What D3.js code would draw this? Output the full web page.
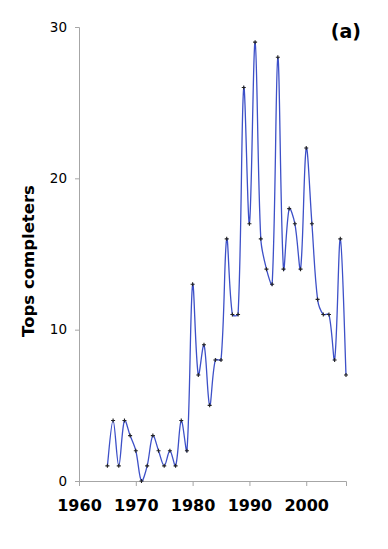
<!DOCTYPE html>
<meta charset="utf-8">
<script src="https://d3js.org/d3.v7.min.js"></script>
<style>
body { margin: 0; background: #fff; }
</style>
<div id="my_dataviz"></div>
<script>
// data
var years = [1965, 1966, 1967, 1968, 1969, 1970, 1971, 1972, 1973, 1974, 1975, 1976, 1977, 1978, 1979,
             1980, 1981, 1982, 1983, 1984, 1985, 1986, 1987, 1988, 1989, 1990, 1991, 1992, 1993, 1994,
             1995, 1996, 1997, 1998, 1999, 2000, 2001, 2002, 2003, 2004, 2005, 2006, 2007];
var completers = [1, 4, 1, 4, 3, 2, 0, 1, 3, 2, 1, 2, 1, 4, 2,
                  13, 7, 9, 5, 8, 8, 16, 11, 11, 26, 17, 29, 16, 14, 13,
                  28, 14, 18, 17, 14, 22, 17, 12, 11, 11, 8, 16, 7];
var xTicks = [1960, 1970, 1980, 1990, 2000];
var yTicks = [0, 10, 20, 30];

var width = 388, height = 549;
var margin = {top: 27, right: 42, bottom: 68, left: 79};

var svg = d3.select("#my_dataviz")
  .append("svg")
    .attr("width", width)
    .attr("height", height);

var x = d3.scaleLinear().domain([1960, 2007]).range([margin.left, width - margin.right]);
var y = d3.scaleLinear().domain([0, 30]).range([height - margin.bottom, margin.top]);

var data = years.map(function(d, i) { return {year: d, value: completers[i]}; });

// Excel-like smoothing: tangents weighted by segment lengths
function curveSmooth(context) {
  var pts;
  return {
    areaStart: function() {}, areaEnd: function() {},
    lineStart: function() { pts = []; },
    point: function(px, py) { pts.push([+px, +py]); },
    lineEnd: function() {
      var n = pts.length;
      if (!n) return;
      context.moveTo(pts[0][0], pts[0][1]);
      function dist(a, b) { return Math.hypot(b[0] - a[0], b[1] - a[1]); }
      function ctrl(i) {
        var p = pts[i];
        if (i === 0) {
          var q = pts[1];
          return {inn: p, out: [p[0] + (q[0] - p[0]) / 6, p[1] + (q[1] - p[1]) / 6]};
        }
        if (i === n - 1) {
          var r = pts[n - 2];
          return {inn: [p[0] + (r[0] - p[0]) / 6, p[1] + (r[1] - p[1]) / 6], out: p};
        }
        var a = pts[i - 1], b = pts[i + 1];
        var dp = dist(a, p), dn = dist(p, b), s = dp + dn;
        var tx = b[0] - a[0], ty = b[1] - a[1];
        return {
          inn: [p[0] - tx * dp / s / 3, p[1] - ty * dp / s / 3],
          out: [p[0] + tx * dn / s / 3, p[1] + ty * dn / s / 3]
        };
      }
      for (var i = 0; i < n - 1; i++) {
        var c0 = ctrl(i), c1 = ctrl(i + 1);
        context.bezierCurveTo(c0.out[0], c0.out[1], c1.inn[0], c1.inn[1], pts[i + 1][0], pts[i + 1][1]);
      }
    }
  };
}

// Y axis
var yAxis = svg.append("g")
  .attr("transform", "translate(" + margin.left + ",0)")
  .call(d3.axisLeft(y).tickValues(yTicks).tickSize(4).tickPadding(8));
yAxis.selectAll("path, line").attr("stroke", "#a6a6a6");
yAxis.selectAll("text")
  .attr("fill", "#000")
  .style("font-family", "DejaVu Sans, Verdana, sans-serif")
  .style("font-size", "13.5px");

// X axis
var xAxis = svg.append("g")
  .attr("transform", "translate(0," + y(0) + ")")
  .call(d3.axisBottom(x).tickValues(xTicks).tickFormat(d3.format("d")).tickSize(5).tickPadding(14));
xAxis.selectAll("path, line").attr("stroke", "#a6a6a6");
xAxis.selectAll("text")
  .attr("fill", "#000")
  .style("font-family", "DejaVu Sans, Verdana, sans-serif")
  .style("font-weight", "bold")
  .style("font-size", "16px");

// smoothed line
var line = d3.line()
  .x(function(d) { return x(d.year); })
  .y(function(d) { return y(d.value); })
  .curve(curveSmooth);

svg.append("path")
  .datum(data)
  .attr("fill", "none")
  .attr("stroke", "#3d50c8")
  .attr("stroke-width", 1.3)
  .attr("d", line);

// plus markers
svg.selectAll(".marker")
  .data(data)
  .enter().append("path")
    .attr("class", "marker")
    .attr("transform", function(d) { return "translate(" + x(d.year) + "," + y(d.value) + ")"; })
    .attr("d", "M-2,0H2M0,-2V2")
    .attr("stroke", "#222")
    .attr("stroke-width", 1.1);

// axis title
svg.append("text")
  .attr("transform", "translate(34,261) rotate(-90)")
  .attr("text-anchor", "middle")
  .style("font-family", "DejaVu Sans, Verdana, sans-serif")
  .style("font-weight", "bold")
  .style("font-size", "16.5px")
  .text("Tops completers");

// panel label
svg.append("text")
  .attr("x", 361)
  .attr("y", 38)
  .attr("text-anchor", "end")
  .style("font-family", "DejaVu Sans, Verdana, sans-serif")
  .style("font-weight", "bold")
  .style("font-size", "19px")
  .text("(a)");
</script>
